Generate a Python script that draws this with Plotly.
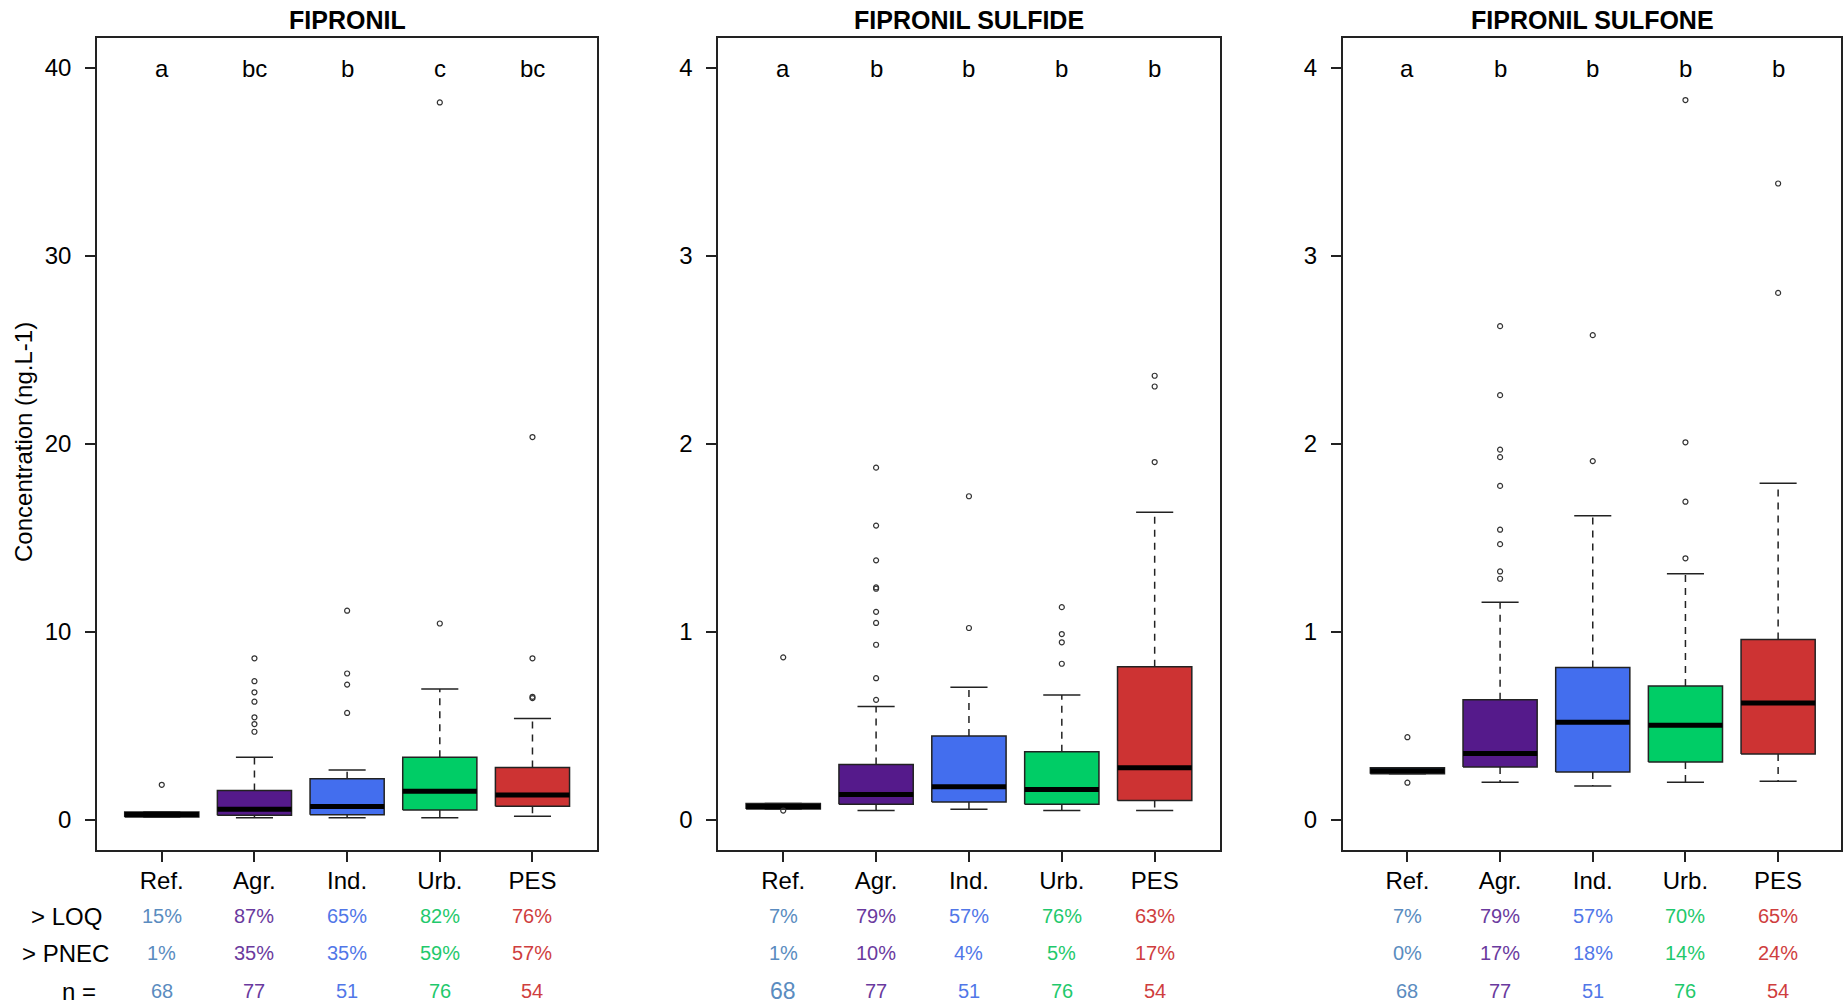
import plotly.graph_objects as go

# ---------------- data ----------------
categories = ["Ref.", "Agr.", "Ind.", "Urb.", "PES"]
panel_titles = ["FIPRONIL", "FIPRONIL SULFIDE", "FIPRONIL SULFONE"]

# FIPRONIL (ng/L)
fip_q1 = [0.15, 0.25, 0.27, 0.53, 0.73]
fip_med = [0.29, 0.57, 0.71, 1.53, 1.33]
fip_q3 = [0.42, 1.56, 2.19, 3.34, 2.79]
fip_lo = [0.15, 0.12, 0.12, 0.12, 0.20]
fip_hi = [0.42, 3.34, 2.65, 6.97, 5.40]
fip_out = [[1.87],
           [8.60, 7.38, 6.79, 6.29, 5.46, 5.10, 4.69],
           [11.13, 7.79, 7.20, 5.69],
           [38.17, 10.45],
           [20.37, 8.60, 6.55, 6.48]]
fip_letters = ["a", "bc", "b", "c", "bc"]

# FIPRONIL SULFIDE
sfd_q1 = [0.058, 0.083, 0.096, 0.083, 0.103]
sfd_med = [0.072, 0.135, 0.176, 0.162, 0.278]
sfd_q3 = [0.087, 0.295, 0.446, 0.363, 0.815]
sfd_lo = [0.058, 0.050, 0.057, 0.050, 0.050]
sfd_hi = [0.087, 0.603, 0.706, 0.665, 1.637]
sfd_out = [[0.865, 0.050],
           [1.874, 1.566, 1.381, 1.237, 1.230, 1.107, 1.048, 0.932, 0.754, 0.639],
           [1.722, 1.021],
           [1.132, 0.989, 0.945, 0.831],
           [2.363, 2.306, 1.904]]
sfd_letters = ["a", "b", "b", "b", "b"]

# FIPRONIL SULFONE
sfn_q1 = [0.246, 0.281, 0.255, 0.308, 0.351]
sfn_med = [0.262, 0.353, 0.519, 0.504, 0.622]
sfn_q3 = [0.278, 0.640, 0.811, 0.713, 0.960]
sfn_lo = [0.246, 0.200, 0.180, 0.200, 0.206]
sfn_hi = [0.278, 1.158, 1.618, 1.310, 1.791]
sfn_out = [[0.440, 0.198],
           [2.627, 2.260, 1.970, 1.930, 1.777, 1.544, 1.467, 1.322, 1.283],
           [2.579, 1.909],
           [3.830, 2.009, 1.693, 1.392],
           [3.386, 2.804]]
sfn_letters = ["a", "b", "b", "b", "b"]

# summary table
row_labels = ["> LOQ", "> PNEC", "n ="]
fip_loq = [15, 87, 65, 82, 76]
sfd_loq = [7, 79, 57, 76, 63]
sfn_loq = [7, 79, 57, 70, 65]
fip_pnec = [1, 35, 35, 59, 57]
sfd_pnec = [1, 10, 4, 5, 17]
sfn_pnec = [0, 17, 18, 14, 24]
fip_n = [68, 77, 51, 76, 54]
sfd_n = [68, 77, 51, 76, 54]
sfn_n = [68, 77, 51, 76, 54]

y_tick_vals = [[0, 10, 20, 30, 40], [0, 1, 2, 3, 4], [0, 1, 2, 3, 4]]
y_label = "Concentration (ng.L-1)"

# ---------------- styling ----------------
box_colors = ["#4682B4", "#551A8B", "#436EEE", "#00CD66", "#CD3333"]
text_colors = ["#5A8CC0", "#6A3A9E", "#5177E8", "#1FC96C", "#CF3E3E"]
FONT = "Liberation Sans, Arial, sans-serif"
EDGE = "#222222"

W, H = 1843, 1005
def py(p):
    return 1 - p / H

x_domains = [[97 / W, 598 / W], [719 / W, 1221 / W], [1344 / W, 1.0]]
y_domain = [py(850), py(38)]
x_ranges = [[0.3, 5.7], [0.3, 5.7], [0.3, 5.7 - 2 / 93.1]]
y_ranges = [[-1.6, 41.6], [-0.16, 4.16], [-0.16, 4.16]]

panels = [
    dict(q1=fip_q1, med=fip_med, q3=fip_q3, lo=fip_lo, hi=fip_hi, out=fip_out,
         letters=fip_letters, loq=fip_loq, pnec=fip_pnec, n=fip_n),
    dict(q1=sfd_q1, med=sfd_med, q3=sfd_q3, lo=sfd_lo, hi=sfd_hi, out=sfd_out,
         letters=sfd_letters, loq=sfd_loq, pnec=sfd_pnec, n=sfd_n),
    dict(q1=sfn_q1, med=sfn_med, q3=sfn_q3, lo=sfn_lo, hi=sfn_hi, out=sfn_out,
         letters=sfn_letters, loq=sfn_loq, pnec=sfn_pnec, n=sfn_n),
]

fig = go.Figure()
annotations = []
positions = list(range(1, len(categories) + 1))

for k, p in enumerate(panels):
    xa = "x" if k == 0 else f"x{k + 1}"
    ya = "y" if k == 0 else f"y{k + 1}"

    # whiskers (dashed)
    wx, wy = [], []
    for i, pos in enumerate(positions):
        wx += [pos, pos, None, pos, pos, None]
        wy += [p["q3"][i], p["hi"][i], None, p["q1"][i], p["lo"][i], None]
    fig.add_trace(go.Scatter(x=wx, y=wy, xaxis=xa, yaxis=ya, mode="lines",
                             line=dict(color=EDGE, width=1.5, dash="7px,6px"),
                             hoverinfo="skip", showlegend=False))
    # staples
    cx, cy = [], []
    for i, pos in enumerate(positions):
        for v in (p["hi"][i], p["lo"][i]):
            cx += [pos - 0.2, pos + 0.2, None]
            cy += [v, v, None]
    fig.add_trace(go.Scatter(x=cx, y=cy, xaxis=xa, yaxis=ya, mode="lines",
                             line=dict(color=EDGE, width=1.5),
                             hoverinfo="skip", showlegend=False))
    # boxes
    for i, pos in enumerate(positions):
        fig.add_trace(go.Scatter(
            x=[pos - 0.4, pos + 0.4, pos + 0.4, pos - 0.4, pos - 0.4],
            y=[p["q1"][i], p["q1"][i], p["q3"][i], p["q3"][i], p["q1"][i]],
            xaxis=xa, yaxis=ya, mode="lines", fill="toself",
            fillcolor=box_colors[i], line=dict(color=EDGE, width=1.5),
            name=categories[i], hoverinfo="skip", showlegend=False))
    # medians
    mx, my = [], []
    for i, pos in enumerate(positions):
        mx += [pos - 0.4, pos + 0.4, None]
        my += [p["med"][i], p["med"][i], None]
    fig.add_trace(go.Scatter(x=mx, y=my, xaxis=xa, yaxis=ya, mode="lines",
                             line=dict(color="black", width=5),
                             hoverinfo="skip", showlegend=False))
    # outliers
    ox, oy = [], []
    for i, pos in enumerate(positions):
        ox += [pos] * len(p["out"][i])
        oy += p["out"][i]
    fig.add_trace(go.Scatter(x=ox, y=oy, xaxis=xa, yaxis=ya, mode="markers",
                             marker=dict(symbol="circle-open", size=5, color="#333333",
                                         line=dict(width=1.2)),
                             hoverinfo="skip", showlegend=False))

    # axes
    axis_common = dict(showline=True, mirror=True, linecolor=EDGE, linewidth=1.5,
                       showgrid=False, zeroline=False, ticks="outside", ticklen=10,
                       tickwidth=1.5, tickcolor=EDGE, fixedrange=True)
    fig.update_layout(**{
        ("xaxis" if k == 0 else f"xaxis{k + 1}"): dict(
            domain=x_domains[k], range=x_ranges[k], anchor=ya,
            tickvals=positions, ticktext=categories, ticklabelstandoff=-2,
            tickfont=dict(family=FONT, size=24, color="black"), **axis_common),
        ("yaxis" if k == 0 else f"yaxis{k + 1}"): dict(
            domain=y_domain, range=y_ranges[k], anchor=xa,
            tickvals=y_tick_vals[k], ticktext=[str(v) for v in y_tick_vals[k]],
            ticklabelstandoff=9,
            tickfont=dict(family=FONT, size=24, color="black"), **axis_common),
    })

    # title
    annotations.append(dict(
        text=f"<b>{panel_titles[k]}</b>", xref="paper", yref="paper",
        x=(x_domains[k][0] + x_domains[k][1]) / 2 if k < 2 else (1344 + 1845) / 2 / W,
        y=py(20), xanchor="center", yanchor="middle", showarrow=False,
        font=dict(family=FONT, size=25, color="black")))
    # significance letters
    for i, pos in enumerate(positions):
        annotations.append(dict(
            text=p["letters"][i], xref=xa, yref=ya, x=pos, y=y_tick_vals[k][-1],
            xanchor="center", yanchor="middle", showarrow=False,
            font=dict(family=FONT, size=24, color="black")))
    # table values
    for r, (key, ypx) in enumerate([("loq", 916), ("pnec", 953), ("n", 991)]):
        for i, pos in enumerate(positions):
            v = p[key][i]
            txt = f"{v}%" if key != "n" else f"{v}"
            size = 20
            if key == "n" and k == 1 and i == 0:
                size = 23
            annotations.append(dict(
                text=txt, xref=xa, yref="paper", x=pos, y=py(ypx),
                xanchor="center", yanchor="middle", showarrow=False,
                font=dict(family=FONT, size=size, color=text_colors[i])))

# row labels
for lab, xc, ypx in zip(row_labels, [67, 66, 79], [916, 953, 991]):
    annotations.append(dict(text=lab, xref="paper", yref="paper", x=xc / W, y=py(ypx),
                            xanchor="center", yanchor="middle", showarrow=False,
                            font=dict(family=FONT, size=24, color="black")))

# y-axis label
annotations.append(dict(text=y_label, xref="paper", yref="paper", x=24 / W, y=py(442),
                        xanchor="center", yanchor="middle", textangle=-90, showarrow=False,
                        font=dict(family=FONT, size=24, color="black")))

fig.update_layout(width=W, height=H, margin=dict(l=0, r=0, t=0, b=0),
                  paper_bgcolor="white", plot_bgcolor="white",
                  showlegend=False, annotations=annotations,
                  font=dict(family=FONT, color="black"))

fig.write_html("out.html", config={"displayModeBar": False},
               post_script="document.body.style.margin='0';document.body.style.overflow='hidden';")
